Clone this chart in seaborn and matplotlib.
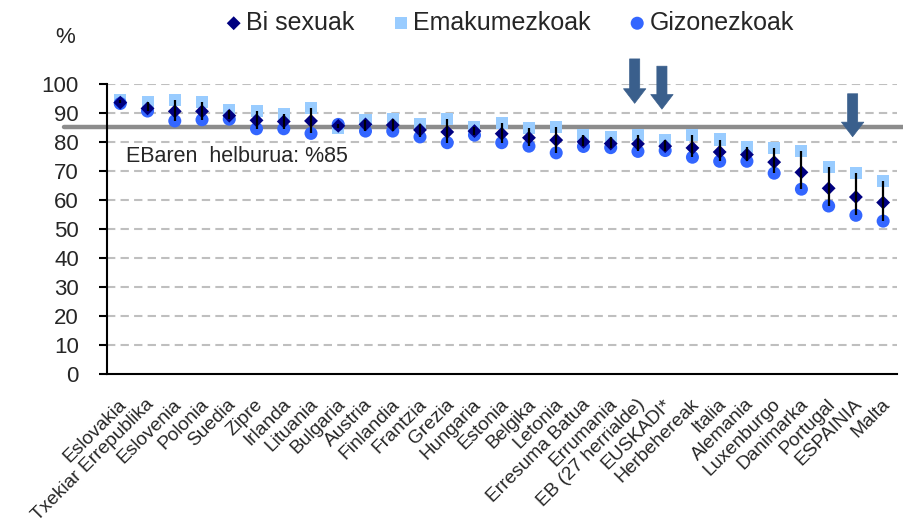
import numpy as np
import pandas as pd
import matplotlib
matplotlib.use('Agg')
import matplotlib.pyplot as plt
import matplotlib.transforms as mtransforms
import seaborn as sns

countries = ['Eslovakia', 'Txekiar Errepublika', 'Eslovenia', 'Polonia', 'Suedia', 'Zipre',
             'Irlanda', 'Lituania', 'Bulgaria', 'Austria', 'Finlandia', 'Frantzia', 'Grezia',
             'Hungaria', 'Estonia', 'Belgika', 'Letonia', 'Erresuma Batua', 'Errumania',
             'EB (27 herrialde)', 'EUSKADI*', 'Herbehereak', 'Italia', 'Alemania',
             'Luxenburgo', 'Danimarka', 'Portugal', 'ESPAINIA', 'Malta']
bi_sexuak = [93.5, 91.5, 90.5, 90.5, 89.0, 87.4, 87.0, 87.2, 85.5, 86.0, 85.8, 84.1, 83.4,
             83.7, 82.8, 81.4, 80.6, 80.0, 79.4, 79.3, 78.5, 77.9, 76.5, 75.6, 73.0,
             69.5, 64.0, 61.0, 59.1]
emakumezkoak = [94.4, 93.6, 94.4, 93.6, 91.0, 90.7, 89.5, 91.5, 84.9, 87.4, 87.8, 86.3, 87.8,
                85.1, 86.4, 84.9, 85.1, 82.3, 81.7, 82.3, 80.5, 82.3, 80.8, 78.1, 77.9,
                76.7, 71.3, 69.2, 66.5]
gizonezkoak = [93.2, 90.6, 87.2, 87.6, 87.8, 84.5, 84.5, 82.9, 86.0, 83.7, 83.7, 81.7, 79.7,
               82.3, 79.7, 78.5, 76.2, 78.4, 78.0, 76.7, 77.0, 74.7, 73.3, 73.3, 69.2,
               63.7, 57.9, 54.7, 52.7]
target = 85
arrow_targets = ['EB (27 herrialde)', 'EUSKADI*', 'ESPAINIA']

df = pd.DataFrame({'Herrialdea': countries, 'Bi sexuak': bi_sexuak,
                   'Emakumezkoak': emakumezkoak, 'Gizonezkoak': gizonezkoak})

sns.set_style('white')
plt.rcParams['font.family'] = ['Liberation Sans', 'DejaVu Sans']

fig = plt.figure(figsize=(9.04, 5.30), dpi=100)
ax = fig.add_axes([0.118, 0.294, 0.874, 0.548])

sns.scatterplot(data=df, x='Herrialdea', y='Emakumezkoak', marker='s', s=75,
                color='#99CCFF', edgecolor='none', ax=ax, zorder=3, label='Emakumezkoak')
sns.scatterplot(data=df, x='Herrialdea', y='Gizonezkoak', marker='o', s=88,
                color='#3366FF', edgecolor='none', ax=ax, zorder=4, label='Gizonezkoak')
sns.scatterplot(data=df, x='Herrialdea', y='Bi sexuak', marker='D', s=50,
                color='#000080', edgecolor='none', ax=ax, zorder=5, label='Bi sexuak')

# high-low lines between women and men
xpos = np.arange(len(countries))
ax.vlines(xpos, df['Gizonezkoak'], df['Emakumezkoak'], color='black', lw=1.6, zorder=6)

ax.set_xlim(-0.5, len(countries) - 0.5)
ax.set_ylim(0, 100)
ax.set_yticks(range(0, 101, 10))
for v in range(10, 101, 10):
    ax.axhline(v, color='#BFBFBF', lw=1.5, ls=(0, (4, 2.5)), zorder=1)

# EU target line, running past the plot area
ax.plot([-0.054, 1.01], [target, target], transform=ax.get_yaxis_transform(),
        color='#8C8C8C', lw=3.2, clip_on=False, zorder=2)
ax.text(0.2, 75, 'EBaren  helburua: %85', fontsize=15.5, va='center', ha='left')

# arrows
arrow_tops = [109.5, 107, 97.5]
arrow_tips = [92.3, 90.3, 80.8]
for name, top, tip in zip(arrow_targets, arrow_tops, arrow_tips):
    i = countries.index(name) - 0.12
    ax.annotate('', xy=(i, tip), xytext=(i, top),
                arrowprops=dict(arrowstyle='simple,head_width=1.15,head_length=0.75,tail_width=0.52',
                                fc='#3A5F8C', ec='#3A5F8C', lw=0.5, mutation_scale=14),
                annotation_clip=False, zorder=7)

ax.set_xlabel('')
ax.set_ylabel('')
for s in ['top', 'right']:
    ax.spines[s].set_visible(False)
for s in ['left', 'bottom']:
    ax.spines[s].set_color('black')
    ax.spines[s].set_linewidth(1.5)

ax.set_xticks(xpos)
ax.set_xticklabels(countries, rotation=45, ha='right', rotation_mode='anchor', fontsize=13.8)
ax.tick_params(axis='x', which='major', length=0, pad=12)
shift = mtransforms.ScaledTranslation(-0.02, -0.05, fig.dpi_scale_trans)
for lab in ax.get_xticklabels():
    lab.set_transform(lab.get_transform() + shift)
ax.set_xticks(np.arange(-0.5, len(countries), 1), minor=True)
ax.tick_params(axis='x', which='minor', length=5, width=1.5, color='black', direction='out')
ax.tick_params(axis='y', length=6, width=1.5, color='black', direction='out', labelsize=16,
               left=True, pad=14)

handles, labels = ax.get_legend_handles_labels()
order = [labels.index(l) for l in ['Bi sexuak', 'Emakumezkoak', 'Gizonezkoak']]
ax.legend([handles[i] for i in order], [labels[i] for i in order], ncol=3, frameon=False,
          loc='center', bbox_to_anchor=(0.565, 0.957), bbox_transform=fig.transFigure,
          fontsize=18, handlelength=0.5, handletextpad=0.25, columnspacing=1.6, markerscale=1.0)

fig.text(0.072, 0.93, '%', fontsize=16, ha='center', va='center')

fig.savefig('out.png', dpi=100)
